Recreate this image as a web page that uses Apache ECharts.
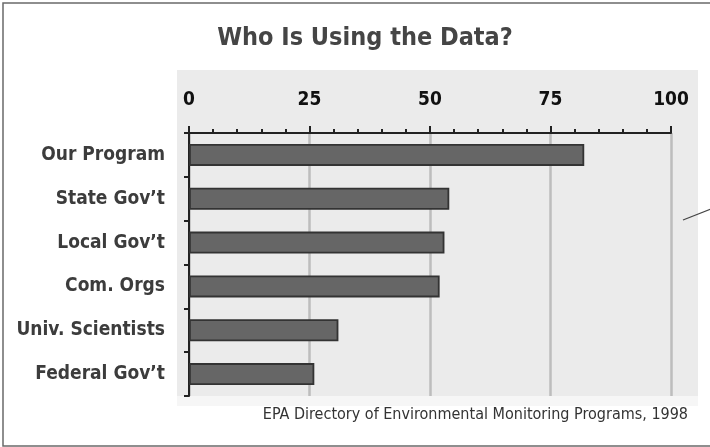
<!DOCTYPE html>
<html><head><meta charset="utf-8">
<script src="https://cdn.jsdelivr.net/npm/echarts@6/dist/echarts.min.js"></script>
<style>html,body{margin:0;padding:0;background:#fff}#c{width:710px;height:447px}</style>
</head><body><div id="c"></div>
<script>
const categories = ["Our Program", "State Gov\u2019t", "Local Gov\u2019t", "Com. Orgs", "Univ. Scientists", "Federal Gov\u2019t"];
const values = [82, 54, 53, 52, 31, 26];
const xTicks = [0, 25, 50, 75, 100];
const titleText = "Who Is Using the Data?";
const sourceText = "EPA Directory of Environmental Monitoring Programs, 1998";

const chart = echarts.init(document.getElementById('c'), null, {renderer: 'canvas'});
const font = '"DejaVu Sans Condensed", "DejaVu Sans", sans-serif';
chart.setOption({
  animation: false,
  backgroundColor: '#ffffff',
  title: {
    text: titleText, left: 360, top: 21, textAlign: 'center',
    textStyle: {fontFamily: font, fontWeight: 'bold', fontSize: 25, color: '#454545'}
  },
  grid: {left: 189, right: 39, top: 133, bottom: 51, containLabel: false},
  graphic: [
    {type: 'rect', z: -100, shape: {x: 177, y: 70, width: 521, height: 326}, style: {fill: '#ebebeb'}},
    {type: 'rect', z: -100, shape: {x: 177, y: 396, width: 521, height: 10}, style: {fill: '#f6f6f6'}},
    {type: 'rect', z: 100, shape: {x: 3, y: 3, width: 720, height: 443}, style: {fill: 'none', stroke: '#6a6a6a', lineWidth: 1.5}},
    {type: 'line', z: 100, shape: {x1: 683, y1: 220, x2: 711, y2: 209}, style: {stroke: '#444', lineWidth: 1.2}},
    {type: 'text', z: 100, style: {x: 688, y: 415, text: sourceText, textAlign: 'right', textVerticalAlign: 'middle', font: '16px "DejaVu Sans Condensed", "DejaVu Sans"', fill: '#333'}}
  ],
  xAxis: {
    type: 'value', position: 'top', min: xTicks[0], max: xTicks[xTicks.length - 1], interval: 25,
    axisLine: {show: true, lineStyle: {color: '#222', width: 2}},
    axisTick: {show: true, length: 7, lineStyle: {color: '#222', width: 2}},
    minorTick: {show: true, splitNumber: 5, length: 4, lineStyle: {color: '#222', width: 2}},
    splitLine: {show: true, lineStyle: {color: '#bdbdbd', width: 2.5}},
    axisLabel: {margin: 23, fontFamily: font, fontWeight: 'bold', fontSize: 19, color: '#111'}
  },
  yAxis: {
    type: 'category', data: categories, inverse: true,
    axisLine: {show: true, lineStyle: {color: '#222', width: 2}},
    axisTick: {show: true, length: 5, lineStyle: {color: '#222', width: 2}},
    axisLabel: {margin: 24, fontFamily: font, fontWeight: 'bold', fontSize: 19, color: '#3c3c3c'}
  },
  series: [{
    type: 'bar', data: values, barWidth: 22,
    itemStyle: {color: '#666666', borderColor: '#333', borderWidth: 1.8}
  }]
});
</script></body></html>
